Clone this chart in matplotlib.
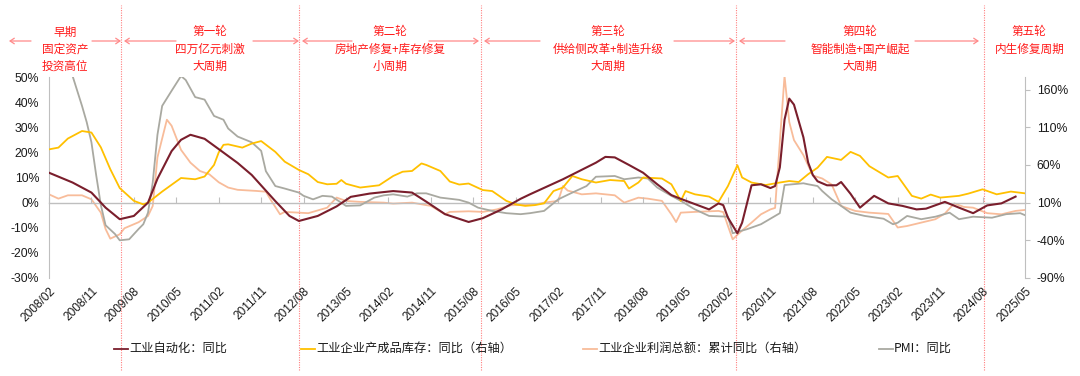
import matplotlib
matplotlib.use('Agg')
import matplotlib.pyplot as plt
import matplotlib.transforms as mtrans
from matplotlib.lines import Line2D

plt.rcParams['font.family'] = ['Liberation Sans', 'Noto Sans CJK SC', 'DejaVu Sans']
CJK = ['Noto Sans CJK SC', 'DejaVu Sans']

# ---------------- data ----------------
series_names = ['工业自动化：同比', '工业企业产成品库存：同比（右轴）',
                '工业企业利润总额：累计同比（右轴）', 'PMI：同比']

auto_dates = ['2008-02', '2008-07', '2008-11', '2009-02', '2009-05', '2009-08', '2009-11', '2010-01',
              '2010-04', '2010-06', '2010-08', '2010-11', '2011-02', '2011-06', '2011-09', '2012-02',
              '2012-05', '2012-07', '2012-11', '2013-03', '2013-06', '2013-10', '2014-03', '2014-07',
              '2014-10', '2015-02', '2015-07', '2015-10', '2016-02', '2016-06', '2016-08', '2017-03',
              '2017-10', '2017-12', '2018-02', '2018-05', '2018-08', '2018-11', '2019-02', '2019-04',
              '2019-07', '2019-10', '2019-12', '2020-01', '2020-02', '2020-04', '2020-05', '2020-07',
              '2020-09', '2020-11', '2020-12', '2021-01', '2021-02', '2021-03', '2021-04', '2021-06',
              '2021-07', '2021-08', '2021-09', '2021-11', '2022-01', '2022-02', '2022-04', '2022-06',
              '2022-09', '2022-12', '2023-03', '2023-06', '2023-08', '2023-12', '2024-03', '2024-06',
              '2024-09', '2024-12', '2025-03']
auto_vals = [11.9, 8.0, 4.0, -2.0, -6.6, -5.3, 0.0, 9.5,
             20.5, 25.0, 27.0, 25.4, 21.3, 15.8, 11.0, 0.6,
             -5.3, -7.3, -5.3, -1.5, 2.3, 3.6, 4.6, 4.0,
             0.4, -4.6, -7.7, -6.2, -2.7, 1.5, 3.3, 9.3,
             15.9, 18.2, 18.0, 15.0, 11.9, 7.3, 3.0, 1.5,
             -0.6, -2.7, -0.3, -1.0, -6.0, -12.2, -8.0, 6.9,
             7.3, 5.8, 6.6, 14.0, 33.0, 41.4, 39.0, 26.0,
             16.0, 11.0, 8.5, 6.9, 6.9, 8.2, 3.5, -2.0,
             2.7, -0.3, -1.3, -2.7, -2.4, 0.3, -2.0, -4.2,
             -1.1, -0.3, 2.4]

inv_dates = ['2008-02', '2008-04', '2008-06', '2008-09', '2008-11', '2009-01', '2009-03', '2009-05',
             '2009-08', '2009-10', '2009-11', '2010-02', '2010-06', '2010-09', '2010-11', '2011-01',
             '2011-02', '2011-03', '2011-04', '2011-07', '2011-09', '2011-11', '2012-02', '2012-04',
             '2012-07', '2012-09', '2012-11', '2013-01', '2013-03', '2013-04', '2013-05', '2013-08',
             '2013-12', '2014-03', '2014-05', '2014-07', '2014-09', '2014-10', '2015-01', '2015-03',
             '2015-05', '2015-07', '2015-10', '2015-12', '2016-03', '2016-05', '2016-07', '2016-09',
             '2016-11', '2017-01', '2017-03', '2017-05', '2017-07', '2017-10', '2018-01', '2018-04',
             '2018-05', '2018-07', '2018-08', '2018-12', '2019-02', '2019-04', '2019-05', '2019-07',
             '2019-10', '2019-12', '2020-02', '2020-04', '2020-05', '2020-07', '2020-10', '2021-01',
             '2021-03', '2021-05', '2021-07', '2021-09', '2021-11', '2022-02', '2022-04', '2022-06',
             '2022-08', '2022-12', '2023-02', '2023-05', '2023-07', '2023-09', '2023-11', '2024-03',
             '2024-05', '2024-08', '2024-11', '2025-02', '2025-05']
inv_vals = [21.2, 21.9, 25.5, 28.5, 27.9, 22.0, 13.3, 5.8,
            0.7, -0.7, 0.0, 4.4, 9.8, 9.3, 10.4, 15.0,
            20.0, 23.0, 23.2, 21.9, 23.5, 24.5, 20.2, 16.3,
            13.0, 11.3, 8.2, 7.3, 7.5, 9.0, 7.5, 6.0,
            6.9, 10.6, 12.3, 12.6, 15.6, 15.0, 12.6, 8.4,
            7.2, 7.6, 5.0, 4.6, 0.7, -0.7, -1.3, -1.0,
            -0.3, 4.6, 6.0, 10.6, 9.3, 8.0, 9.0, 8.6,
            5.6, 8.0, 10.0, 9.6, 7.3, 0.7, 4.6, 3.3,
            2.4, 0.3, 6.6, 14.9, 10.0, 8.0, 7.0, 8.0,
            8.6, 8.2, 11.3, 13.9, 18.2, 17.0, 20.2, 18.6,
            14.5, 10.0, 10.6, 2.7, 1.6, 3.2, 2.0, 2.7,
            3.6, 5.3, 3.3, 4.4, 3.7]

profit_dates = ['2008-02', '2008-04', '2008-06', '2008-09', '2008-11', '2009-01', '2009-02', '2009-03',
                '2009-05', '2009-06', '2009-09', '2009-11', '2009-12', '2010-01', '2010-03', '2010-04',
                '2010-06', '2010-08', '2010-10', '2010-12', '2011-02', '2011-04', '2011-06', '2011-10',
                '2011-12', '2012-01', '2012-03', '2012-04', '2012-09', '2013-01', '2013-03', '2013-05',
                '2013-08', '2014-01', '2014-03', '2014-07', '2014-11', '2015-02', '2015-03', '2015-07',
                '2015-10', '2016-01', '2016-04', '2016-07', '2016-09', '2016-11', '2017-02', '2017-03',
                '2017-04', '2017-07', '2017-10', '2018-02', '2018-04', '2018-07', '2018-09', '2018-12',
                '2019-02', '2019-03', '2019-04', '2019-07', '2019-12', '2020-01', '2020-02', '2020-03',
                '2020-05', '2020-07', '2020-09', '2020-11', '2020-12', '2021-02', '2021-03', '2021-04',
                '2021-06', '2021-08', '2021-10', '2021-12', '2022-02', '2022-03', '2022-05', '2022-08',
                '2022-12', '2023-02', '2023-04', '2023-07', '2023-10', '2023-12', '2024-02', '2024-04',
                '2024-06', '2024-09', '2024-12', '2025-03', '2025-05']
profit_vals = [21.0, 15.3, 19.7, 19.7, 14.4, -3.3, -25.0, -37.8,
               -32.0, -24.0, -16.0, -7.7, 5.6, 70.0, 120.0, 112.0,
               80.0, 63.0, 52.0, 47.6, 37.0, 30.0, 27.0, 25.5,
               24.5, 14.0, -5.5, -2.3, -4.0, 3.3, 16.7, 12.2,
               11.0, 10.0, 8.7, 10.0, 5.6, -5.5, -2.3, -1.5,
               -2.3, 1.0, 6.5, 7.3, 7.3, 10.0, 12.3, 32.0,
               26.0, 21.0, 22.3, 19.7, 10.0, 16.6, 15.3, 12.3,
               -5.5, -15.8, -3.3, -2.3, -1.0, -2.5, -21.0, -38.7,
               -27.0, -16.5, -5.5, 1.0, 3.0, 178.0, 117.0, 93.0,
               73.0, 46.0, 42.0, 34.0, 5.6, 3.3, -1.0, -3.3,
               -5.0, -23.0, -21.0, -16.5, -12.0, -4.5, 9.0, 4.3,
               3.3, -4.0, -5.5, -1.0, 0.3]

pmi_dates = ['2008-02', '2008-05', '2008-07', '2008-09', '2008-10', '2008-11', '2008-12', '2009-01',
             '2009-02', '2009-04', '2009-05', '2009-07', '2009-09', '2009-10', '2009-11', '2009-12',
             '2010-01', '2010-02', '2010-04', '2010-06', '2010-07', '2010-09', '2010-11', '2011-01',
             '2011-03', '2011-04', '2011-06', '2011-09', '2011-11', '2011-12', '2012-02', '2012-04',
             '2012-07', '2012-08', '2012-10', '2012-12', '2013-02', '2013-05', '2013-08', '2013-11',
             '2014-01', '2014-03', '2014-06', '2014-08', '2014-10', '2015-01', '2015-05', '2015-07',
             '2015-09', '2015-12', '2016-03', '2016-06', '2016-08', '2016-11', '2017-02', '2017-05',
             '2017-08', '2017-10', '2018-02', '2018-04', '2018-07', '2018-09', '2018-11', '2019-02',
             '2019-04', '2019-07', '2019-10', '2020-02', '2020-03', '2020-06', '2020-09', '2020-11',
             '2021-01', '2021-02', '2021-06', '2021-07', '2021-09', '2021-10', '2021-12', '2022-02',
             '2022-04', '2022-07', '2022-11', '2023-01', '2023-02', '2023-04', '2023-07', '2023-10',
             '2024-01', '2024-03', '2024-06', '2024-10', '2025-01', '2025-04', '2025-05']
pmi_vals = [70.0, 60.0, 50.4, 38.5, 32.0, 24.0, 11.0, -1.0,
            -9.0, -12.5, -15.0, -14.6, -10.5, -8.6, -4.0, 8.0,
            27.0, 38.5, 44.5, 50.4, 48.8, 42.0, 41.0, 34.5,
            33.0, 29.5, 26.3, 24.0, 20.6, 12.5, 6.6, 5.6,
            4.0, 2.7, 1.3, 2.7, 2.4, -1.3, -1.1, 2.0,
            2.9, 3.3, 2.4, 3.7, 3.7, 2.0, 1.1, 0.0,
            -2.0, -3.3, -4.2, -4.6, -4.2, -3.3, 1.3, 4.0,
            6.6, 10.3, 10.6, 9.3, 10.0, 9.6, 6.0, 2.7,
            0.7, -2.7, -5.3, -5.6, -12.2, -10.6, -8.6, -6.4,
            -4.2, 7.0, 7.7, 7.3, 6.6, 4.6, 1.3, -1.3,
            -4.0, -5.3, -6.4, -8.6, -8.0, -5.3, -6.6, -5.6,
            -4.0, -6.6, -5.6, -6.0, -4.6, -4.2, -5.0]

x_tick_labels = ['2008/02', '2008/11', '2009/08', '2010/05', '2011/02', '2011/11', '2012/08',
                 '2013/05', '2014/02', '2014/11', '2015/08', '2016/05', '2017/02', '2017/11',
                 '2018/08', '2019/05', '2020/02', '2020/11', '2021/08', '2022/05', '2023/02',
                 '2023/11', '2024/08', '2025/05']
left_ticks = [-30, -20, -10, 0, 10, 20, 30, 40, 50]
right_ticks = [-90, -40, 10, 60, 110, 160]

period_bounds = ['2009-05-10', '2012-07-01', '2015-09-18', '2020-03-21', '2024-08-10']
period_texts = [['早期', '固定资产', '投资高位'],
                ['第一轮', '四万亿元刺激', '大周期'],
                ['第二轮', '房地产修复+库存修复', '小周期'],
                ['第三轮', '供给侧改革+制造升级', '大周期'],
                ['第四轮', '智能制造+国产崛起', '大周期'],
                ['第五轮', '内生修复周期']]


def mi(s):
    parts = s.replace('/', '-').split('-')
    v = (int(parts[0]) - 2008) * 12 + int(parts[1]) - 2
    if len(parts) > 2:
        v += (int(parts[2]) - 1) / 30.0
    return v


# ---------------- figure ----------------
W, H = 1080, 376
fig = plt.figure(figsize=(W / 100, H / 100), dpi=100)
ax = fig.add_axes([49 / W, 1 - 278 / H, (1025 - 49) / W, (278 - 77) / H])
ax2 = ax.twinx()

C_AUTO = '#7A1E2C'
C_INV = '#FFC000'
C_PROF = '#F8BC9A'
C_PMI = '#A9A9A1'
GRID = '#BFBFBF'

ax.plot([mi(d) for d in pmi_dates], pmi_vals, color=C_PMI, lw=1.3, zorder=2)
ax.plot([mi(d) for d in inv_dates], inv_vals, color=C_INV, lw=1.3, zorder=3)
ax.plot([mi(d) for d in auto_dates], auto_vals, color=C_AUTO, lw=1.5, zorder=4)
ax2.plot([mi(d) for d in profit_dates], profit_vals, color=C_PROF, lw=1.3)

ax.set_zorder(ax2.get_zorder() + 1)
ax.patch.set_visible(False)

x0, x1 = mi(x_tick_labels[0]), mi(x_tick_labels[-1])
ax.set_xlim(x0, x1)
ymin, ymax = left_ticks[0], left_ticks[-1]
ax.set_ylim(ymin, ymax)
k = 100.0 / 30.0
ax2.set_ylim(10 + ymin * k, 10 + ymax * k)

xt = [mi(t) for t in x_tick_labels]
ax.set_xticks(xt)
ax.set_xticklabels(x_tick_labels, rotation=45, ha='right', va='top', rotation_mode='anchor',
                   fontsize=8.6, color='#1a1a1a')
ax.tick_params(axis='x', length=0, pad=5)

ax.set_yticks(left_ticks)
ax.set_yticklabels([f'{v}%' for v in left_ticks], fontsize=8.8, color='#1a1a1a')
ax.tick_params(axis='y', length=0, pad=7)
ax2.set_yticks(right_ticks)
ax2.set_yticklabels([f'{v}%' for v in right_ticks], fontsize=8.8, color='#1a1a1a')
ax2.tick_params(axis='y', length=3.5, width=0.8, color=GRID, pad=5)

for a in (ax, ax2):
    for s in ('top', 'bottom'):
        a.spines[s].set_visible(False)
ax.spines['right'].set_visible(False)
ax.spines['left'].set_color(GRID)
ax.spines['left'].set_linewidth(0.8)
ax2.spines['left'].set_visible(False)
ax2.spines['right'].set_color(GRID)
ax2.spines['right'].set_linewidth(0.8)

# zero line with inward ticks
zfrac = (0 - ymin) / (ymax - ymin)
sec = ax.secondary_xaxis(zfrac)
sec.set_xticks(xt)
sec.tick_params(axis='x', direction='in', length=4, width=0.8, color=GRID, labelbottom=False,
                labeltop=False)
for s in sec.spines.values():
    s.set_color(GRID)
    s.set_linewidth(1.0)

# period separators (dotted red lines)
blend = mtrans.blended_transform_factory(ax.transData, fig.transFigure)
bx = [mi(b) for b in period_bounds]
for b in bx:
    ax.add_line(Line2D([b, b], [1 - 370 / H, 1 - 5 / H], transform=blend, color='#FF7F7F',
                       lw=0.8, ls=(0, (1, 1.2)), clip_on=False, zorder=0))

# period annotations
edges = [x0 - 8.5] + bx + [x1 + 10.5]
line_y = [1 - 32 / H, 1 - 49.3 / H, 1 - 66.5 / H]
for i, lines in enumerate(period_texts):
    cx = (edges[i] + edges[i + 1]) / 2
    for j, t in enumerate(lines):
        fig.text(0, 0, t, transform=mtrans.blended_transform_factory(ax.transData, fig.transFigure)
                 if False else None) if False else None
        ax.text(cx, line_y[j], t, transform=blend, ha='center', va='center', color='#FF1A1A',
                fontsize=8.4, family=CJK, clip_on=False)

# arrows (pixel layout)
arrow_y = 1 - 41 / H
arrows = [(31, 9), (92, 121), (176, 124), (253, 299), (352, 302), (429, 479), (540, 484),
          (674, 735), (785, 739), (915, 979)]
for xa, xb in arrows:
    fig.add_artist(matplotlib.patches.FancyArrowPatch(
        (xa / W, arrow_y), (xb / W, arrow_y), transform=fig.transFigure,
        arrowstyle='->,head_length=3,head_width=2', color='#FF8A8A', lw=0.9,
        shrinkA=0, shrinkB=0))

# legend (manual)
leg_y = 1 - 348.6 / H
leg_handle_x = [114, 301, 583, 879]
leg_colors = [C_AUTO, C_INV, C_PROF, C_PMI]
for name, hx, c in zip(series_names, leg_handle_x, leg_colors):
    fig.add_artist(Line2D([hx / W, (hx + 14) / W], [leg_y, leg_y], transform=fig.transFigure,
                          color=c, lw=1.3))
    fig.text((hx + 15) / W, leg_y, name, ha='left', va='center', fontsize=8.8, family=CJK,
             color='#1a1a1a')

fig.savefig('out.png', dpi=100)
